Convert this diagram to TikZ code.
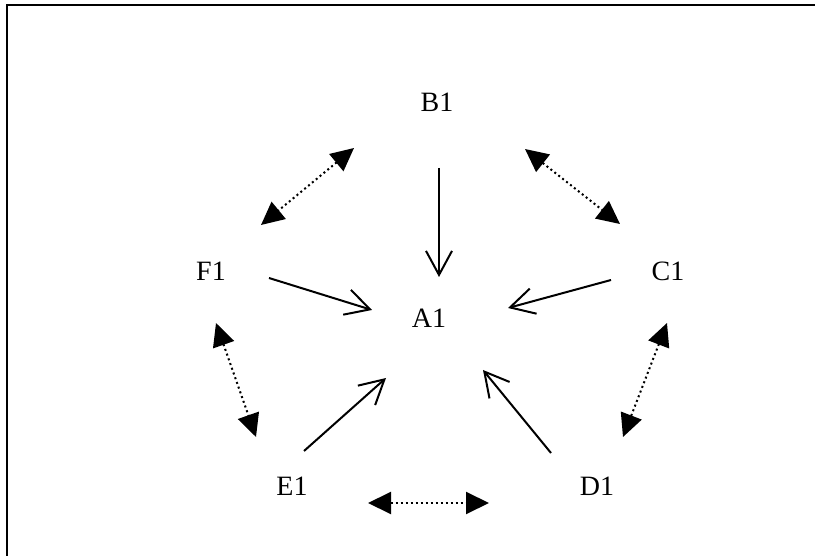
\documentclass[tikz,border=0pt]{standalone}
\usepackage{fontspec}
\setmainfont{Liberation Serif}
\usetikzlibrary{arrows.meta}
\begin{document}
\begin{tikzpicture}[x=1pt,y=-1pt,
  lbl/.style={inner sep=0pt,font=\fontsize{28}{34}\selectfont},
  solidarrow/.style={line width=2pt,-{Straight Barb[length=24pt,width=26pt,line width=2pt]}},
  dotarrow/.style={line width=2pt,dash pattern=on 2pt off 3pt,{Triangle[length=23pt,width=22pt]}-{Triangle[length=23pt,width=22pt]}},
  frame/.style={line width=2pt}]
\useasboundingbox (0,0) rectangle (815,556);
\coordinate (fbl) at (7,556);
\coordinate (ftl) at (7,5);
\coordinate (ftr) at (815,5);
\draw[frame] (fbl) -- (ftl) -- (ftr);

\node[lbl] (B1) at (437,102) {B1};
\node[lbl] (F1) at (211,271) {F1};
\node[lbl] (C1) at (668,271) {C1};
\node[lbl] (A1) at (429,318) {A1};
\node[lbl] (E1) at (292,486) {E1};
\node[lbl] (D1) at (597,486) {D1};

% solid arrows towards A1
\coordinate (ba1) at (439,168); \coordinate (ba2) at (439,277);
\coordinate (fa1) at (269,278); \coordinate (fa2) at (372,310);
\coordinate (ca1) at (611,280); \coordinate (ca2) at (508,308);
\coordinate (ea1) at (304,451); \coordinate (ea2) at (386,378);
\coordinate (da1) at (551,453); \coordinate (da2) at (483,370);
\draw[solidarrow] (ba1) -- (ba2);
\draw[solidarrow] (fa1) -- (fa2);
\draw[solidarrow] (ca1) -- (ca2);
\draw[solidarrow] (ea1) -- (ea2);
\draw[solidarrow] (da1) -- (da2);

% dotted double arrows round the ring
\coordinate (bf1) at (354,148); \coordinate (bf2) at (261,225);
\coordinate (bc1) at (525,149); \coordinate (bc2) at (620,224);
\coordinate (fe1) at (216,323); \coordinate (fe2) at (256,437);
\coordinate (cd1) at (667,323); \coordinate (cd2) at (623,437);
\coordinate (ed1) at (368,503); \coordinate (ed2) at (489,503);
\draw[dotarrow] (bf1) -- (bf2);
\draw[dotarrow] (bc1) -- (bc2);
\draw[dotarrow] (fe1) -- (fe2);
\draw[dotarrow] (cd1) -- (cd2);
\draw[dotarrow] (ed1) -- (ed2);
\end{tikzpicture}
\end{document}
